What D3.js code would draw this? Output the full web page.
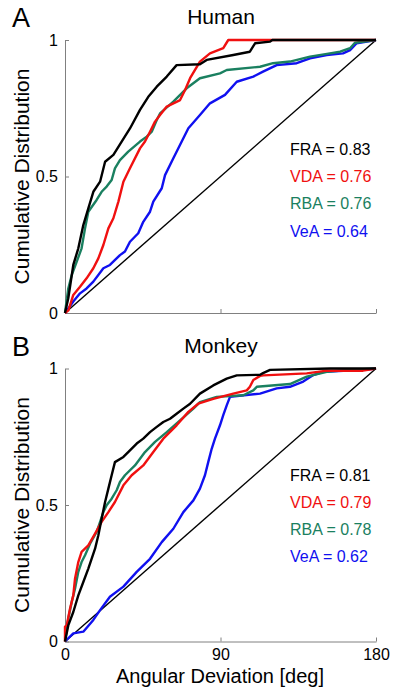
<!DOCTYPE html>
<html>
<head>
<meta charset="utf-8">
<script src="https://cdn.jsdelivr.net/npm/d3@7"></script>
<style>
  html, body { margin: 0; padding: 0; background: #fff; }
  svg { display: block; font-family: "Liberation Sans", Arial, sans-serif; }
</style>
</head>
<body>
<svg id="chart" width="400" height="700"></svg>
<script>
// ---- Data (angular deviation in deg, cumulative fraction) ----
const panelLetters = ["A", "B"];
const panelTitles = ["Human", "Monkey"];
const seriesNames = ["FRA", "VDA", "RBA", "VeA"];
const seriesColors = ["#000000", "#f01010", "#1a8060", "#1010f0"];
const humanAUC = ["0.83", "0.76", "0.76", "0.64"];
const monkeyAUC = ["0.81", "0.79", "0.78", "0.62"];
const xTicks = [0, 90, 180];
const yTicks = [0, 0.5, 1];
const yTickLabels = ["0", "0.5", "1"];
const chanceLine = [[0, 0], [180, 1]];

const humanFRA = [[0,0],[1.9,0.054],[4.8,0.176],[7.7,0.237],[10.6,0.322],[13.5,0.383],[16.4,0.444],[20.3,0.481],[23.2,0.554],[28.0,0.579],[32.8,0.628],[37.6,0.676],[43.4,0.744],[48.2,0.792],[53.1,0.829],[58.9,0.866],[64.6,0.908],[78.1,0.911],[82.0,0.927],[97.4,0.945],[107,0.957],[110,0.988],[118.7,0.994],[120,1],[180,1]];
const humanVDA = [[0,0],[2,0.01],[4.8,0.066],[8.7,0.096],[12.5,0.127],[16.4,0.164],[19.3,0.2],[22.2,0.249],[25.1,0.31],[28.0,0.347],[30.9,0.408],[33.8,0.481],[37.6,0.53],[43.4,0.603],[46.3,0.628],[49.2,0.664],[52.1,0.701],[55.0,0.725],[58.9,0.756],[66.6,0.78],[69.5,0.817],[72.4,0.86],[78.1,0.921],[83.9,0.951],[91.6,0.97],[94.5,1],[180,1]];
const humanRBA = [[0,0],[1.9,0.09],[3.9,0.139],[6.8,0.188],[9.6,0.237],[11.6,0.31],[13.5,0.371],[18.3,0.414],[21.2,0.444],[24.1,0.463],[27.0,0.487],[28.9,0.53],[31.8,0.56],[36.6,0.591],[43.4,0.628],[47.3,0.646],[50.2,0.664],[53.1,0.707],[55.0,0.731],[62.7,0.774],[70.4,0.823],[78.1,0.86],[89.7,0.878],[93.6,0.89],[112.9,0.902],[120.4,0.915],[130.2,0.921],[141.8,0.939],[151.6,0.949],[159.2,0.957],[165,0.97],[167.8,0.99],[180,1]];
const humanVeA = [[0,0],[4.8,0.042],[8.7,0.072],[12.5,0.09],[16.4,0.115],[22.2,0.164],[26.0,0.176],[31.8,0.212],[34.7,0.225],[37.6,0.261],[42.4,0.292],[45.3,0.334],[49.2,0.371],[51.1,0.408],[56.0,0.457],[57.9,0.505],[62.7,0.567],[68.5,0.64],[71.4,0.677],[78.1,0.725],[83.9,0.768],[92.6,0.799],[99.4,0.847],[109.0,0.866],[114.6,0.884],[122.5,0.908],[134.1,0.915],[141.8,0.933],[151.5,0.945],[160.9,0.951],[165,0.963],[168.8,0.988],[180,1]];

const monkeyFRA = [[0,0],[1.9,0.059],[4.8,0.108],[7.7,0.169],[10.6,0.218],[13.5,0.267],[15.4,0.303],[17.4,0.34],[19.3,0.389],[21.2,0.45],[23.2,0.511],[25.1,0.56],[27.0,0.609],[28.9,0.657],[33.8,0.676],[37.6,0.7],[41.5,0.725],[45.3,0.743],[49.2,0.767],[53.1,0.786],[56.9,0.804],[60.8,0.816],[64.6,0.834],[68.5,0.853],[72.4,0.871],[78.1,0.908],[85.8,0.938],[93.6,0.963],[99.4,0.975],[112.9,0.977],[114.6,0.983],[118.7,0.995],[153.4,1],[180,1]];
const monkeyVDA = [[0,0],[0,0.054],[1.0,0.059],[2.9,0.12],[4.8,0.169],[5.8,0.23],[7.7,0.291],[9.6,0.328],[13.5,0.352],[17.4,0.395],[21.2,0.438],[25.1,0.474],[28.9,0.511],[33.8,0.572],[38.6,0.609],[45.3,0.645],[51.1,0.694],[56.9,0.743],[64.6,0.792],[71.4,0.841],[77.1,0.871],[85.8,0.889],[97.4,0.908],[105.2,0.92],[107,0.933],[109,0.958],[112.9,0.973],[114.8,0.975],[139.9,0.982],[151.5,0.992],[172.5,0.992],[180,1]];
const monkeyRBA = [[0,0],[1.9,0.084],[3.9,0.145],[5.8,0.193],[7.7,0.255],[9.6,0.291],[11.6,0.316],[14.5,0.358],[18.3,0.401],[20.3,0.438],[22.2,0.474],[24.1,0.499],[27.0,0.523],[29.9,0.554],[31.8,0.584],[34.7,0.609],[40.5,0.645],[46.3,0.694],[52.1,0.731],[58.9,0.767],[66.6,0.81],[74.3,0.853],[78.1,0.877],[87.8,0.896],[103.2,0.902],[109.0,0.92],[111,0.933],[130.2,0.943],[139.9,0.97],[151.5,0.988],[165,0.995],[180,1]];
const monkeyVeA = [[0,0],[4.8,0.03],[10.6,0.036],[16.4,0.079],[20.3,0.115],[26,0.164],[33.8,0.201],[41.5,0.255],[49.2,0.303],[56.0,0.364],[62.7,0.413],[68.5,0.474],[74.3,0.517],[78.1,0.56],[81.0,0.609],[82.9,0.657],[84.9,0.706],[86.8,0.743],[89.7,0.792],[91.6,0.829],[93.6,0.865],[95.5,0.896],[112.9,0.908],[122.5,0.927],[130.2,0.933],[137.9,0.952],[143.7,0.976],[149.5,0.988],[172.6,0.995],[180,1]];

const panelSeries = [
  [humanFRA, humanVDA, humanRBA, humanVeA],
  [monkeyFRA, monkeyVDA, monkeyRBA, monkeyVeA]
];
const panelAUC = [humanAUC, monkeyAUC];

// ---- Layout ----
const svg = d3.select("#chart");
const x = d3.scaleLinear().domain([0, 180]).range([65, 376]);
const panelY = [
  d3.scaleLinear().domain([0, 1]).range([313, 40]),
  d3.scaleLinear().domain([0, 1]).range([641.5, 368.5])
];
const axisColor = "#808080";

panelY.forEach((y, p) => {
  const g = svg.append("g");

  // Axes
  const xAxis = d3.axisBottom(x).tickValues(xTicks).tickSizeInner(-4).tickSizeOuter(0).tickPadding(7)
    .tickFormat(p === 1 ? d3.format("d") : () => "");
  const gx = g.append("g").attr("transform", `translate(0,${y(0)})`).call(xAxis);
  const yAxis = d3.axisLeft(y).tickValues(yTicks).tickSizeInner(-4).tickSizeOuter(0).tickPadding(7)
    .tickFormat((d, i) => yTickLabels[i]);
  const gy = g.append("g").attr("transform", `translate(${x(0)},0)`).call(yAxis);
  [gx, gy].forEach(a => {
    a.select(".domain").attr("stroke", axisColor).attr("stroke-width", 1);
    a.selectAll(".tick line").attr("stroke", axisColor);
    a.selectAll(".tick text").attr("fill", "#000").attr("font-size", 16)
      .attr("font-family", "'Liberation Sans', Arial, sans-serif");
  });

  const line = d3.line().x(d => x(d[0])).y(d => y(d[1]));

  // Chance diagonal
  g.append("path").datum(chanceLine).attr("d", line)
    .attr("fill", "none").attr("stroke", "#000").attr("stroke-width", 1.4);

  // Curves (blue first, black on top)
  const order = [3, 2, 1, 0];
  order.forEach(i => {
    g.append("path").datum(panelSeries[p][i]).attr("d", line)
      .attr("fill", "none").attr("stroke", seriesColors[i])
      .attr("stroke-width", 2.4).attr("stroke-linejoin", "round");
  });

  // Legend text
  const legendTop = p === 0 ? 155 : 480.5;
  seriesNames.forEach((name, i) => {
    g.append("text").attr("x", 290).attr("y", legendTop + i * 27.2)
      .attr("font-size", 16).attr("fill", seriesColors[i])
      .text(`${name} = ${panelAUC[p][i]}`);
  });

  // Title and panel letter
  g.append("text").attr("x", 221).attr("y", y(1) - 16).attr("text-anchor", "middle")
    .attr("font-size", 21).text(panelTitles[p]);
  g.append("text").attr("x", 12).attr("y", y(1) - 13).attr("font-size", 27).text(panelLetters[p]);

  // Y label
  g.append("text").attr("transform", `translate(29,${y(0.5)}) rotate(-90)`)
    .attr("text-anchor", "middle").attr("font-size", 21).text("Cumulative Distribution");
});

// X label
svg.append("text").attr("x", 220).attr("y", 683).attr("text-anchor", "middle")
  .attr("font-size", 20).text("Angular Deviation [deg]");
</script>
</body>
</html>
